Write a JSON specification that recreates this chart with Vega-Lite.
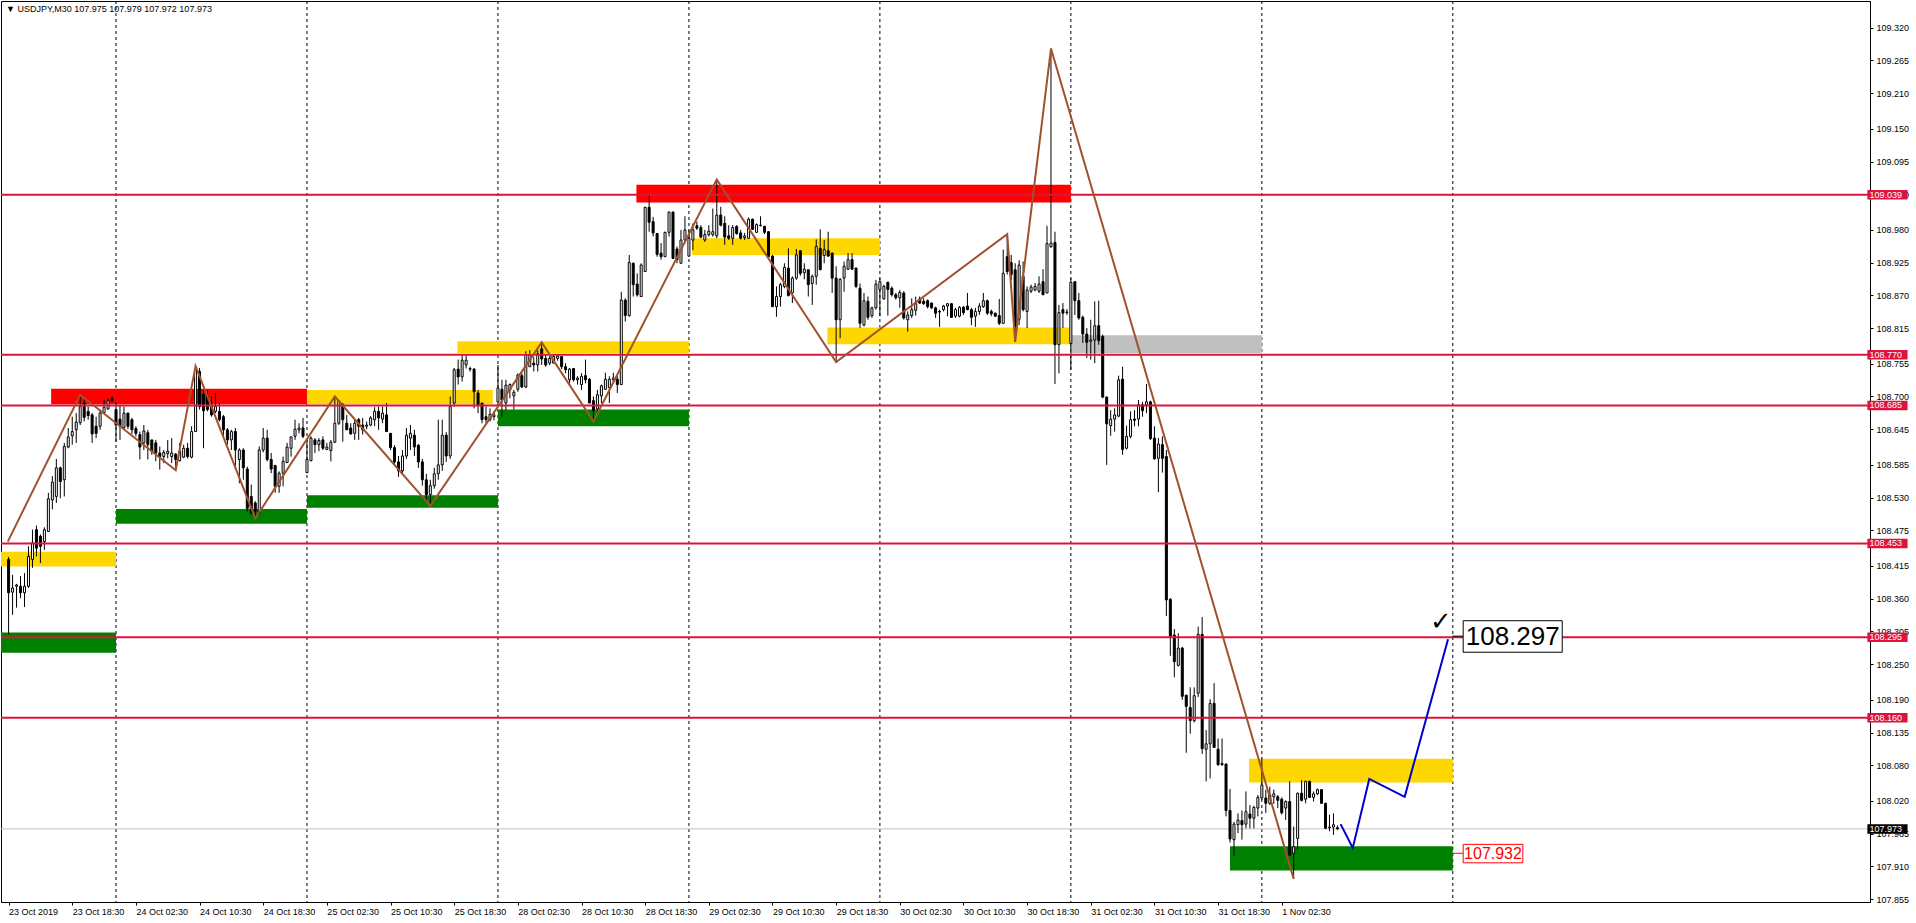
{
 "$schema": "https://vega.github.io/schema/vega-lite/v6.json",
 "width": 1869,
 "height": 901,
 "autosize": {"type": "none"},
 "padding": {"left": 1, "top": 1, "right": 46, "bottom": 21},
 "background": "white",
 "config": {
  "view": {"stroke": "black", "strokeWidth": 1},
  "font": "Liberation Sans",
  "axis": {"labelFont": "Liberation Sans", "labelFontSize": 9, "labelColor": "black", "tickColor": "black", "domainColor": "black", "grid": false, "labelOverlap": false, "labelFlush": false, "labelBound": false}
 },
 "title": {"text": "▼ USDJPY,M30  107.975 107.979 107.972 107.973", "anchor": "start", "frame": "group", "orient": "top", "offset": -13, "dx": 5, "fontSize": 9, "fontWeight": "normal", "font": "Liberation Sans", "color": "black"},
 "datasets": {
  "candles": [
{"i":0,"o":108.426,"h":108.43,"l":108.3,"c":108.37},
{"i":1,"o":108.371,"h":108.4,"l":108.333,"c":108.378},
{"i":2,"o":108.381,"h":108.385,"l":108.345,"c":108.383},
{"i":3,"o":108.381,"h":108.398,"l":108.361,"c":108.37},
{"i":4,"o":108.37,"h":108.403,"l":108.346,"c":108.381},
{"i":5,"o":108.381,"h":108.448,"l":108.378,"c":108.431},
{"i":6,"o":108.426,"h":108.476,"l":108.412,"c":108.454},
{"i":7,"o":108.476,"h":108.483,"l":108.431,"c":108.445},
{"i":8,"o":108.465,"h":108.468,"l":108.42,"c":108.448},
{"i":9,"o":108.456,"h":108.48,"l":108.442,"c":108.476},
{"i":10,"o":108.473,"h":108.538,"l":108.473,"c":108.528},
{"i":11,"o":108.526,"h":108.566,"l":108.51,"c":108.556},
{"i":12,"o":108.532,"h":108.595,"l":108.521,"c":108.58},
{"i":13,"o":108.58,"h":108.582,"l":108.529,"c":108.557},
{"i":14,"o":108.56,"h":108.622,"l":108.532,"c":108.616},
{"i":15,"o":108.615,"h":108.647,"l":108.613,"c":108.632},
{"i":16,"o":108.634,"h":108.666,"l":108.619,"c":108.641},
{"i":17,"o":108.644,"h":108.672,"l":108.622,"c":108.657},
{"i":18,"o":108.656,"h":108.703,"l":108.652,"c":108.683},
{"i":19,"o":108.689,"h":108.694,"l":108.658,"c":108.665},
{"i":20,"o":108.675,"h":108.683,"l":108.661,"c":108.668},
{"i":21,"o":108.669,"h":108.672,"l":108.622,"c":108.637},
{"i":22,"o":108.65,"h":108.666,"l":108.63,"c":108.638},
{"i":23,"o":108.65,"h":108.678,"l":108.644,"c":108.672},
{"i":24,"o":108.673,"h":108.694,"l":108.672,"c":108.682},
{"i":25,"o":108.679,"h":108.697,"l":108.678,"c":108.693},
{"i":26,"o":108.697,"h":108.7,"l":108.69,"c":108.693},
{"i":27,"o":108.678,"h":108.69,"l":108.624,"c":108.652},
{"i":28,"o":108.662,"h":108.686,"l":108.627,"c":108.65},
{"i":29,"o":108.648,"h":108.683,"l":108.644,"c":108.672},
{"i":30,"o":108.672,"h":108.673,"l":108.645,"c":108.65},
{"i":31,"o":108.661,"h":108.664,"l":108.637,"c":108.644},
{"i":32,"o":108.646,"h":108.65,"l":108.633,"c":108.638},
{"i":33,"o":108.636,"h":108.641,"l":108.594,"c":108.615},
{"i":34,"o":108.622,"h":108.652,"l":108.61,"c":108.642},
{"i":35,"o":108.639,"h":108.644,"l":108.594,"c":108.619},
{"i":36,"o":108.627,"h":108.627,"l":108.602,"c":108.608},
{"i":37,"o":108.622,"h":108.627,"l":108.591,"c":108.605},
{"i":38,"o":108.605,"h":108.616,"l":108.577,"c":108.599},
{"i":39,"o":108.599,"h":108.61,"l":108.588,"c":108.606},
{"i":40,"o":108.604,"h":108.627,"l":108.596,"c":108.608},
{"i":41,"o":108.599,"h":108.63,"l":108.588,"c":108.605},
{"i":42,"o":108.603,"h":108.605,"l":108.576,"c":108.594},
{"i":43,"o":108.592,"h":108.622,"l":108.591,"c":108.608},
{"i":44,"o":108.598,"h":108.619,"l":108.596,"c":108.613},
{"i":45,"o":108.613,"h":108.622,"l":108.596,"c":108.599},
{"i":46,"o":108.598,"h":108.65,"l":108.596,"c":108.641},
{"i":47,"o":108.641,"h":108.751,"l":108.641,"c":108.745},
{"i":48,"o":108.742,"h":108.748,"l":108.678,"c":108.683},
{"i":49,"o":108.704,"h":108.711,"l":108.613,"c":108.676},
{"i":50,"o":108.7,"h":108.711,"l":108.675,"c":108.678},
{"i":51,"o":108.686,"h":108.7,"l":108.666,"c":108.669},
{"i":52,"o":108.675,"h":108.706,"l":108.672,"c":108.683},
{"i":53,"o":108.675,"h":108.689,"l":108.658,"c":108.661},
{"i":54,"o":108.666,"h":108.669,"l":108.633,"c":108.644},
{"i":55,"o":108.644,"h":108.647,"l":108.619,"c":108.627},
{"i":56,"o":108.627,"h":108.644,"l":108.61,"c":108.641},
{"i":57,"o":108.641,"h":108.647,"l":108.577,"c":108.61},
{"i":58,"o":108.594,"h":108.613,"l":108.554,"c":108.61},
{"i":59,"o":108.61,"h":108.613,"l":108.56,"c":108.58},
{"i":60,"o":108.578,"h":108.582,"l":108.507,"c":108.512},
{"i":61,"o":108.532,"h":108.552,"l":108.501,"c":108.504},
{"i":62,"o":108.521,"h":108.524,"l":108.495,"c":108.507},
{"i":63,"o":108.504,"h":108.616,"l":108.501,"c":108.61},
{"i":64,"o":108.61,"h":108.647,"l":108.606,"c":108.63},
{"i":65,"o":108.63,"h":108.644,"l":108.591,"c":108.594},
{"i":66,"o":108.594,"h":108.605,"l":108.571,"c":108.578},
{"i":67,"o":108.584,"h":108.585,"l":108.538,"c":108.549},
{"i":68,"o":108.549,"h":108.574,"l":108.538,"c":108.571},
{"i":69,"o":108.571,"h":108.599,"l":108.549,"c":108.591},
{"i":70,"o":108.589,"h":108.622,"l":108.588,"c":108.615},
{"i":71,"o":108.613,"h":108.633,"l":108.599,"c":108.632},
{"i":72,"o":108.633,"h":108.661,"l":108.627,"c":108.645},
{"i":73,"o":108.644,"h":108.655,"l":108.638,"c":108.647},
{"i":74,"o":108.647,"h":108.664,"l":108.63,"c":108.633},
{"i":75,"o":108.572,"h":108.627,"l":108.571,"c":108.594},
{"i":76,"o":108.592,"h":108.633,"l":108.591,"c":108.63},
{"i":77,"o":108.627,"h":108.63,"l":108.605,"c":108.619},
{"i":78,"o":108.619,"h":108.63,"l":108.608,"c":108.626},
{"i":79,"o":108.627,"h":108.633,"l":108.61,"c":108.613},
{"i":80,"o":108.611,"h":108.622,"l":108.61,"c":108.615},
{"i":81,"o":108.609,"h":108.627,"l":108.591,"c":108.623},
{"i":82,"o":108.623,"h":108.7,"l":108.622,"c":108.655},
{"i":83,"o":108.655,"h":108.694,"l":108.652,"c":108.692},
{"i":84,"o":108.686,"h":108.689,"l":108.624,"c":108.661},
{"i":85,"o":108.655,"h":108.669,"l":108.644,"c":108.644},
{"i":86,"o":108.647,"h":108.655,"l":108.636,"c":108.637},
{"i":87,"o":108.638,"h":108.661,"l":108.627,"c":108.655},
{"i":88,"o":108.661,"h":108.664,"l":108.627,"c":108.65},
{"i":89,"o":108.652,"h":108.664,"l":108.636,"c":108.644},
{"i":90,"o":108.65,"h":108.658,"l":108.645,"c":108.652},
{"i":91,"o":108.652,"h":108.667,"l":108.65,"c":108.664},
{"i":92,"o":108.661,"h":108.682,"l":108.65,"c":108.675},
{"i":93,"o":108.675,"h":108.683,"l":108.644,"c":108.664},
{"i":94,"o":108.662,"h":108.683,"l":108.655,"c":108.672},
{"i":95,"o":108.669,"h":108.689,"l":108.641,"c":108.641},
{"i":96,"o":108.638,"h":108.638,"l":108.61,"c":108.614},
{"i":97,"o":108.614,"h":108.618,"l":108.585,"c":108.59},
{"i":98,"o":108.59,"h":108.6,"l":108.565,"c":108.575},
{"i":99,"o":108.575,"h":108.61,"l":108.57,"c":108.6},
{"i":100,"o":108.6,"h":108.647,"l":108.595,"c":108.635},
{"i":101,"o":108.63,"h":108.652,"l":108.61,"c":108.638},
{"i":102,"o":108.635,"h":108.644,"l":108.6,"c":108.615},
{"i":103,"o":108.618,"h":108.62,"l":108.58,"c":108.59},
{"i":104,"o":108.59,"h":108.595,"l":108.55,"c":108.56},
{"i":105,"o":108.56,"h":108.57,"l":108.525,"c":108.535},
{"i":106,"o":108.535,"h":108.56,"l":108.516,"c":108.55},
{"i":107,"o":108.55,"h":108.58,"l":108.545,"c":108.57},
{"i":108,"o":108.57,"h":108.661,"l":108.56,"c":108.585},
{"i":109,"o":108.585,"h":108.661,"l":108.575,"c":108.635},
{"i":110,"o":108.635,"h":108.64,"l":108.59,"c":108.6},
{"i":111,"o":108.6,"h":108.7,"l":108.595,"c":108.683},
{"i":112,"o":108.689,"h":108.748,"l":108.683,"c":108.745},
{"i":113,"o":108.746,"h":108.762,"l":108.72,"c":108.733},
{"i":114,"o":108.733,"h":108.77,"l":108.725,"c":108.761},
{"i":115,"o":108.753,"h":108.77,"l":108.747,"c":108.761},
{"i":116,"o":108.747,"h":108.75,"l":108.742,"c":108.746},
{"i":117,"o":108.746,"h":108.748,"l":108.68,"c":108.708},
{"i":118,"o":108.706,"h":108.711,"l":108.672,"c":108.686},
{"i":119,"o":108.689,"h":108.689,"l":108.655,"c":108.661},
{"i":120,"o":108.666,"h":108.683,"l":108.655,"c":108.661},
{"i":121,"o":108.661,"h":108.68,"l":108.658,"c":108.67},
{"i":122,"o":108.666,"h":108.675,"l":108.66,"c":108.669},
{"i":123,"o":108.691,"h":108.753,"l":108.689,"c":108.714},
{"i":124,"o":108.712,"h":108.728,"l":108.666,"c":108.694},
{"i":125,"o":108.689,"h":108.728,"l":108.677,"c":108.719},
{"i":126,"o":108.711,"h":108.722,"l":108.697,"c":108.72},
{"i":127,"o":108.701,"h":108.711,"l":108.678,"c":108.707},
{"i":128,"o":108.712,"h":108.739,"l":108.708,"c":108.736},
{"i":129,"o":108.735,"h":108.74,"l":108.714,"c":108.716},
{"i":130,"o":108.716,"h":108.776,"l":108.714,"c":108.77},
{"i":131,"o":108.75,"h":108.778,"l":108.75,"c":108.77},
{"i":132,"o":108.756,"h":108.767,"l":108.742,"c":108.753},
{"i":133,"o":108.753,"h":108.778,"l":108.742,"c":108.772},
{"i":134,"o":108.78,"h":108.791,"l":108.753,"c":108.763},
{"i":135,"o":108.764,"h":108.77,"l":108.75,"c":108.753},
{"i":136,"o":108.756,"h":108.768,"l":108.753,"c":108.764},
{"i":137,"o":108.756,"h":108.771,"l":108.756,"c":108.767},
{"i":138,"o":108.764,"h":108.771,"l":108.76,"c":108.768},
{"i":139,"o":108.767,"h":108.768,"l":108.746,"c":108.75},
{"i":140,"o":108.75,"h":108.756,"l":108.739,"c":108.745},
{"i":141,"o":108.728,"h":108.748,"l":108.722,"c":108.746},
{"i":142,"o":108.747,"h":108.748,"l":108.725,"c":108.728},
{"i":143,"o":108.728,"h":108.734,"l":108.72,"c":108.731},
{"i":144,"o":108.72,"h":108.739,"l":108.711,"c":108.734},
{"i":145,"o":108.735,"h":108.762,"l":108.722,"c":108.728},
{"i":146,"o":108.729,"h":108.731,"l":108.689,"c":108.689},
{"i":147,"o":108.693,"h":108.7,"l":108.658,"c":108.676},
{"i":148,"o":108.679,"h":108.711,"l":108.676,"c":108.703},
{"i":149,"o":108.701,"h":108.72,"l":108.689,"c":108.718},
{"i":150,"o":108.712,"h":108.74,"l":108.712,"c":108.729},
{"i":151,"o":108.715,"h":108.734,"l":108.689,"c":108.729},
{"i":152,"o":108.728,"h":108.74,"l":108.722,"c":108.731},
{"i":153,"o":108.729,"h":108.734,"l":108.706,"c":108.72},
{"i":154,"o":108.72,"h":108.876,"l":108.72,"c":108.862},
{"i":155,"o":108.862,"h":108.865,"l":108.826,"c":108.836},
{"i":156,"o":108.836,"h":108.938,"l":108.834,"c":108.925},
{"i":157,"o":108.924,"h":108.925,"l":108.868,"c":108.888},
{"i":158,"o":108.889,"h":108.907,"l":108.868,"c":108.871},
{"i":159,"o":108.868,"h":108.924,"l":108.868,"c":108.921},
{"i":160,"o":108.91,"h":109.019,"l":108.91,"c":109.018},
{"i":161,"o":109.018,"h":109.039,"l":108.977,"c":108.993},
{"i":162,"o":108.994,"h":109.002,"l":108.969,"c":108.975},
{"i":163,"o":108.974,"h":108.974,"l":108.935,"c":108.939},
{"i":164,"o":108.941,"h":108.958,"l":108.93,"c":108.935},
{"i":165,"o":108.935,"h":108.977,"l":108.935,"c":108.976},
{"i":166,"o":108.976,"h":109.011,"l":108.969,"c":109.01},
{"i":167,"o":109.01,"h":109.011,"l":108.931,"c":108.932},
{"i":168,"o":108.948,"h":108.952,"l":108.924,"c":108.93},
{"i":169,"o":108.924,"h":108.98,"l":108.924,"c":108.963},
{"i":170,"o":108.963,"h":109.003,"l":108.96,"c":108.98},
{"i":171,"o":108.936,"h":108.98,"l":108.935,"c":108.966},
{"i":172,"o":108.963,"h":108.991,"l":108.946,"c":108.98},
{"i":173,"o":108.987,"h":108.994,"l":108.98,"c":108.983},
{"i":174,"o":108.984,"h":108.988,"l":108.966,"c":108.968},
{"i":175,"o":108.963,"h":108.98,"l":108.96,"c":108.972},
{"i":176,"o":108.972,"h":108.988,"l":108.969,"c":108.978},
{"i":177,"o":108.972,"h":109.016,"l":108.969,"c":108.977},
{"i":178,"o":108.97,"h":109.065,"l":108.966,"c":109.005},
{"i":179,"o":109.005,"h":109.019,"l":108.986,"c":108.988},
{"i":180,"o":108.991,"h":109.003,"l":108.955,"c":108.968},
{"i":181,"o":108.97,"h":108.988,"l":108.963,"c":108.966},
{"i":182,"o":108.966,"h":108.988,"l":108.955,"c":108.984},
{"i":183,"o":108.986,"h":108.988,"l":108.972,"c":108.974},
{"i":184,"o":108.975,"h":108.98,"l":108.964,"c":108.966},
{"i":185,"o":108.967,"h":108.975,"l":108.963,"c":108.97},
{"i":186,"o":108.966,"h":109.001,"l":108.965,"c":108.998},
{"i":187,"o":108.998,"h":108.999,"l":108.98,"c":108.981},
{"i":188,"o":108.976,"h":108.991,"l":108.975,"c":108.989},
{"i":189,"o":108.987,"h":109.003,"l":108.986,"c":108.988},
{"i":190,"o":108.986,"h":108.987,"l":108.973,"c":108.976},
{"i":191,"o":108.977,"h":108.978,"l":108.935,"c":108.935},
{"i":192,"o":108.936,"h":108.938,"l":108.851,"c":108.851},
{"i":193,"o":108.851,"h":108.885,"l":108.834,"c":108.868},
{"i":194,"o":108.868,"h":108.891,"l":108.851,"c":108.888},
{"i":195,"o":108.885,"h":108.924,"l":108.882,"c":108.917},
{"i":196,"o":108.916,"h":108.949,"l":108.868,"c":108.87},
{"i":197,"o":108.874,"h":108.902,"l":108.857,"c":108.899},
{"i":198,"o":108.899,"h":108.948,"l":108.896,"c":108.938},
{"i":199,"o":108.945,"h":108.946,"l":108.903,"c":108.907},
{"i":200,"o":108.908,"h":108.924,"l":108.897,"c":108.914},
{"i":201,"o":108.913,"h":108.913,"l":108.868,"c":108.888},
{"i":202,"o":108.89,"h":108.905,"l":108.854,"c":108.902},
{"i":203,"o":108.902,"h":108.964,"l":108.888,"c":108.952},
{"i":204,"o":108.949,"h":108.981,"l":108.913,"c":108.913},
{"i":205,"o":108.937,"h":108.963,"l":108.924,"c":108.947},
{"i":206,"o":108.945,"h":108.977,"l":108.935,"c":108.936},
{"i":207,"o":108.941,"h":108.942,"l":108.874,"c":108.899},
{"i":208,"o":108.899,"h":108.919,"l":108.758,"c":108.829},
{"i":209,"o":108.829,"h":108.899,"l":108.798,"c":108.897},
{"i":210,"o":108.899,"h":108.927,"l":108.876,"c":108.919},
{"i":211,"o":108.914,"h":108.941,"l":108.913,"c":108.93},
{"i":212,"o":108.93,"h":108.941,"l":108.913,"c":108.914},
{"i":213,"o":108.916,"h":108.916,"l":108.882,"c":108.885},
{"i":214,"o":108.882,"h":108.89,"l":108.815,"c":108.823},
{"i":215,"o":108.82,"h":108.874,"l":108.818,"c":108.861},
{"i":216,"o":108.86,"h":108.868,"l":108.829,"c":108.833},
{"i":217,"o":108.836,"h":108.851,"l":108.832,"c":108.849},
{"i":218,"o":108.849,"h":108.896,"l":108.846,"c":108.889},
{"i":219,"o":108.88,"h":108.899,"l":108.835,"c":108.893},
{"i":220,"o":108.864,"h":108.888,"l":108.863,"c":108.885},
{"i":221,"o":108.892,"h":108.893,"l":108.836,"c":108.88},
{"i":222,"o":108.882,"h":108.885,"l":108.868,"c":108.871},
{"i":223,"o":108.871,"h":108.874,"l":108.863,"c":108.866},
{"i":224,"o":108.866,"h":108.879,"l":108.849,"c":108.875},
{"i":225,"o":108.874,"h":108.877,"l":108.829,"c":108.832},
{"i":226,"o":108.829,"h":108.843,"l":108.809,"c":108.837},
{"i":227,"o":108.836,"h":108.865,"l":108.832,"c":108.846},
{"i":228,"o":108.845,"h":108.868,"l":108.836,"c":108.856},
{"i":229,"o":108.864,"h":108.868,"l":108.856,"c":108.857},
{"i":230,"o":108.86,"h":108.865,"l":108.854,"c":108.856},
{"i":231,"o":108.861,"h":108.863,"l":108.848,"c":108.851},
{"i":232,"o":108.857,"h":108.858,"l":108.847,"c":108.849},
{"i":233,"o":108.849,"h":108.851,"l":108.832,"c":108.84},
{"i":234,"o":108.843,"h":108.846,"l":108.817,"c":108.842},
{"i":235,"o":108.846,"h":108.854,"l":108.843,"c":108.852},
{"i":236,"o":108.852,"h":108.857,"l":108.835,"c":108.856},
{"i":237,"o":108.856,"h":108.857,"l":108.832,"c":108.833},
{"i":238,"o":108.835,"h":108.849,"l":108.832,"c":108.846},
{"i":239,"o":108.835,"h":108.852,"l":108.833,"c":108.85},
{"i":240,"o":108.85,"h":108.852,"l":108.837,"c":108.841},
{"i":241,"o":108.852,"h":108.874,"l":108.845,"c":108.846},
{"i":242,"o":108.846,"h":108.849,"l":108.82,"c":108.833},
{"i":243,"o":108.835,"h":108.849,"l":108.817,"c":108.843},
{"i":244,"o":108.843,"h":108.857,"l":108.837,"c":108.852},
{"i":245,"o":108.851,"h":108.874,"l":108.849,"c":108.861},
{"i":246,"o":108.861,"h":108.863,"l":108.837,"c":108.84},
{"i":247,"o":108.843,"h":108.846,"l":108.835,"c":108.839},
{"i":248,"o":108.84,"h":108.841,"l":108.834,"c":108.835},
{"i":249,"o":108.836,"h":108.864,"l":108.82,"c":108.823},
{"i":250,"o":108.823,"h":108.947,"l":108.823,"c":108.907},
{"i":251,"o":108.935,"h":108.973,"l":108.905,"c":108.91},
{"i":252,"o":108.925,"h":108.938,"l":108.895,"c":108.905},
{"i":253,"o":108.913,"h":108.924,"l":108.792,"c":108.818},
{"i":254,"o":108.83,"h":108.929,"l":108.82,"c":108.921},
{"i":255,"o":108.902,"h":108.927,"l":108.843,"c":108.846},
{"i":256,"o":108.843,"h":108.885,"l":108.815,"c":108.879},
{"i":257,"o":108.877,"h":108.888,"l":108.874,"c":108.884},
{"i":258,"o":108.879,"h":108.891,"l":108.877,"c":108.885},
{"i":259,"o":108.877,"h":108.902,"l":108.874,"c":108.889},
{"i":260,"o":108.893,"h":108.914,"l":108.871,"c":108.871},
{"i":261,"o":108.874,"h":108.987,"l":108.874,"c":108.957},
{"i":262,"o":108.952,"h":109.285,"l":108.95,"c":108.958},
{"i":263,"o":108.959,"h":108.977,"l":108.721,"c":108.787},
{"i":264,"o":108.787,"h":108.854,"l":108.739,"c":108.841},
{"i":265,"o":108.846,"h":108.857,"l":108.815,"c":108.84},
{"i":266,"o":108.842,"h":108.847,"l":108.837,"c":108.841},
{"i":267,"o":108.789,"h":108.899,"l":108.745,"c":108.892},
{"i":268,"o":108.893,"h":108.893,"l":108.837,"c":108.861},
{"i":269,"o":108.861,"h":108.874,"l":108.829,"c":108.832},
{"i":270,"o":108.833,"h":108.836,"l":108.79,"c":108.805},
{"i":271,"o":108.805,"h":108.815,"l":108.765,"c":108.791},
{"i":272,"o":108.793,"h":108.829,"l":108.762,"c":108.795},
{"i":273,"o":108.795,"h":108.86,"l":108.756,"c":108.819},
{"i":274,"o":108.819,"h":108.861,"l":108.787,"c":108.794},
{"i":275,"o":108.801,"h":108.804,"l":108.697,"c":108.699},
{"i":276,"o":108.699,"h":108.7,"l":108.585,"c":108.654},
{"i":277,"o":108.651,"h":108.677,"l":108.634,"c":108.662},
{"i":278,"o":108.662,"h":108.68,"l":108.641,"c":108.669},
{"i":279,"o":108.667,"h":108.735,"l":108.665,"c":108.728},
{"i":280,"o":108.729,"h":108.75,"l":108.602,"c":108.611},
{"i":281,"o":108.613,"h":108.651,"l":108.611,"c":108.633},
{"i":282,"o":108.633,"h":108.675,"l":108.63,"c":108.661},
{"i":283,"o":108.662,"h":108.677,"l":108.65,"c":108.66},
{"i":284,"o":108.662,"h":108.694,"l":108.65,"c":108.686},
{"i":285,"o":108.686,"h":108.691,"l":108.666,"c":108.676},
{"i":286,"o":108.686,"h":108.721,"l":108.672,"c":108.691},
{"i":287,"o":108.691,"h":108.693,"l":108.627,"c":108.629},
{"i":288,"o":108.63,"h":108.65,"l":108.594,"c":108.595},
{"i":289,"o":108.596,"h":108.63,"l":108.539,"c":108.62},
{"i":290,"o":108.619,"h":108.633,"l":108.572,"c":108.596},
{"i":291,"o":108.599,"h":108.61,"l":108.331,"c":108.358},
{"i":292,"o":108.359,"h":108.361,"l":108.264,"c":108.297},
{"i":293,"o":108.299,"h":108.309,"l":108.228,"c":108.254},
{"i":294,"o":108.248,"h":108.302,"l":108.246,"c":108.277},
{"i":295,"o":108.277,"h":108.279,"l":108.19,"c":108.196},
{"i":296,"o":108.198,"h":108.198,"l":108.101,"c":108.179},
{"i":297,"o":108.177,"h":108.211,"l":108.133,"c":108.155},
{"i":298,"o":108.155,"h":108.211,"l":108.152,"c":108.197},
{"i":299,"o":108.201,"h":108.313,"l":108.195,"c":108.3},
{"i":300,"o":108.3,"h":108.329,"l":108.099,"c":108.108},
{"i":301,"o":108.107,"h":108.139,"l":108.053,"c":108.116},
{"i":302,"o":108.116,"h":108.191,"l":108.058,"c":108.184},
{"i":303,"o":108.184,"h":108.218,"l":108.11,"c":108.11},
{"i":304,"o":108.107,"h":108.125,"l":108.079,"c":108.081},
{"i":305,"o":108.083,"h":108.125,"l":108.079,"c":108.081},
{"i":306,"o":108.082,"h":108.083,"l":107.994,"c":108.004},
{"i":307,"o":108.004,"h":108.04,"l":107.95,"c":107.956},
{"i":308,"o":107.955,"h":107.985,"l":107.928,"c":107.981},
{"i":309,"o":107.98,"h":107.999,"l":107.966,"c":107.988},
{"i":310,"o":107.987,"h":108.004,"l":107.955,"c":107.98},
{"i":311,"o":107.981,"h":108.036,"l":107.974,"c":108.002},
{"i":312,"o":107.998,"h":108.013,"l":107.974,"c":107.991},
{"i":313,"o":107.991,"h":108.012,"l":107.974,"c":108.009},
{"i":314,"o":108.008,"h":108.03,"l":107.994,"c":108.026},
{"i":315,"o":108.025,"h":108.092,"l":108.022,"c":108.047},
{"i":316,"o":108.025,"h":108.039,"l":108.0,"c":108.016},
{"i":317,"o":108.016,"h":108.044,"l":108.013,"c":108.03},
{"i":318,"o":108.027,"h":108.039,"l":108.015,"c":108.032},
{"i":319,"o":108.027,"h":108.03,"l":108.008,"c":108.021},
{"i":320,"o":108.023,"h":108.026,"l":107.997,"c":108.0},
{"i":321,"o":108.008,"h":108.021,"l":107.988,"c":108.019},
{"i":322,"o":108.019,"h":108.053,"l":107.927,"c":107.929},
{"i":323,"o":107.932,"h":107.977,"l":107.889,"c":107.943},
{"i":324,"o":107.957,"h":108.034,"l":107.938,"c":108.033},
{"i":325,"o":108.033,"h":108.055,"l":108.019,"c":108.021},
{"i":326,"o":108.023,"h":108.054,"l":108.016,"c":108.053},
{"i":327,"o":108.053,"h":108.054,"l":108.025,"c":108.026},
{"i":328,"o":108.026,"h":108.036,"l":108.019,"c":108.032},
{"i":329,"o":108.032,"h":108.041,"l":108.03,"c":108.039},
{"i":330,"o":108.039,"h":108.04,"l":108.015,"c":108.016},
{"i":331,"o":108.016,"h":108.017,"l":107.973,"c":107.974},
{"i":332,"o":107.975,"h":107.997,"l":107.969,"c":107.976},
{"i":333,"o":107.976,"h":107.999,"l":107.963,"c":107.98},
{"i":334,"o":107.975,"h":107.979,"l":107.972,"c":107.973}
  ],
  "zones": [
{"t0":-2,"t1":27,"top":108.439,"bottom":108.414,"kind":"watch"},
{"t0":-2,"t1":27,"top":108.303,"bottom":108.269,"kind":"buy"},
{"t0":10.7,"t1":75,"top":108.713,"bottom":108.687,"kind":"sell"},
{"t0":27,"t1":75,"top":108.511,"bottom":108.486,"kind":"buy"},
{"t0":75,"t1":121.7,"top":108.711,"bottom":108.687,"kind":"watch"},
{"t0":75,"t1":123,"top":108.534,"bottom":108.513,"kind":"buy"},
{"t0":112.8,"t1":171,"top":108.793,"bottom":108.773,"kind":"watch"},
{"t0":123,"t1":171,"top":108.678,"bottom":108.65,"kind":"buy"},
{"t0":157.8,"t1":267,"top":109.056,"bottom":109.026,"kind":"sell"},
{"t0":171.8,"t1":219,"top":108.966,"bottom":108.938,"kind":"watch"},
{"t0":205.8,"t1":267,"top":108.816,"bottom":108.788,"kind":"watch"},
{"t0":267,"t1":315,"top":108.803,"bottom":108.773,"kind":"neutral"},
{"t0":311.8,"t1":363,"top":108.091,"bottom":108.051,"kind":"watch"},
{"t0":307,"t1":363,"top":107.944,"bottom":107.903,"kind":"buy"}
  ],
  "levels": [{"level":109.039},{"level":108.77},{"level":108.685},{"level":108.453},{"level":108.295},{"level":108.16}],
  "bid": [{"level":107.973}],
  "days": [{"i":27},{"i":75},{"i":123},{"i":171},{"i":219},{"i":267},{"i":315},{"i":363}],
  "zigzag": [
{"i":-0.2,"p":108.456},{"i":18,"p":108.703},{"i":42,"p":108.576},{"i":47,"p":108.751},{"i":62,"p":108.495},{"i":82,"p":108.7},{"i":106,"p":108.516},{"i":134,"p":108.791},{"i":147,"p":108.658},{"i":178,"p":109.065},{"i":208,"p":108.758},{"i":251,"p":108.973},{"i":253,"p":108.792},{"i":262,"p":109.285},{"i":323,"p":107.889}
  ],
  "forecast": [
{"i":334.8,"p":107.981},{"i":337.85,"p":107.941},{"i":342,"p":108.057},{"i":350.9,"p":108.027},{"i":361.8,"p":108.292}
  ],
  "tags": [
{"kind":"target","anchor":362.85,"t0":365.6,"t1":390.5,"mid":378.05,"top":108.323,"bottom":108.27,"level":108.297,"text":"108.297"},
{"kind":"stop","anchor":362.85,"t0":365.6,"t1":380.6,"mid":373.1,"top":107.947,"bottom":107.916,"level":107.932,"text":"107.932"}
  ],
  "check": [{"i":360,"p":108.321,"mark":"✓"}]
 },
 "layer": [
  {
   "data": {"name": "days"},
   "mark": {"type": "rule", "color": "black", "strokeWidth": 1, "strokeDash": [3, 3]},
   "encoding": {
    "x": {"field": "i", "type": "quantitative", "title": null,
     "scale": {"domain": [-0.65, 466.6], "nice": false, "zero": false},
     "axis": {"orient": "bottom", "values": [0,16,32,48,64,80,96,112,128,144,160,176,192,208,224,240,256,272,288,304,320], "tickCount": 100,
      "labelExpr": "['23 Oct 2019','23 Oct 18:30','24 Oct 02:30','24 Oct 10:30','24 Oct 18:30','25 Oct 02:30','25 Oct 10:30','25 Oct 18:30','28 Oct 02:30','28 Oct 10:30','28 Oct 18:30','29 Oct 02:30','29 Oct 10:30','29 Oct 18:30','30 Oct 02:30','30 Oct 10:30','30 Oct 18:30','31 Oct 02:30','31 Oct 10:30','31 Oct 18:30','1 Nov 02:30'][round(datum.value/16)]",
      "labelAlign": "left", "labelPadding": 2, "tickSize": 3, "labelAngle": 0, "labelOverlap": false, "labelFlush": false, "labelBound": false}}
   }
  },
  {
   "data": {"name": "zones"},
   "mark": {"type": "rect", "clip": true},
   "encoding": {
    "x": {"field": "t0", "type": "quantitative", "title": null},
    "x2": {"field": "t1"},
    "y": {"field": "top", "type": "quantitative", "title": null,
     "scale": {"domain": [107.8501, 109.3649], "nice": false, "zero": false},
     "axis": {"orient": "right", "values": [109.32,109.265,109.21,109.15,109.095,109.04,108.98,108.925,108.87,108.815,108.755,108.7,108.645,108.585,108.53,108.475,108.415,108.36,108.305,108.25,108.19,108.135,108.08,108.02,107.965,107.91,107.855], "tickCount": 100,
      "format": ".3f", "tickSize": 3, "labelPadding": 3, "labelBaseline": "middle", "labelOverlap": false, "labelFlush": false, "labelBound": false}},
    "y2": {"field": "bottom"},
    "fill": {"field": "kind", "type": "nominal", "legend": null,
     "scale": {"domain": ["sell", "watch", "buy", "neutral"], "range": ["#FF0000", "#FFD700", "#008000", "#C0C0C0"]}}
   }
  },
  {
   "data": {"name": "bid"},
   "mark": {"type": "rule", "color": "#C0C0C0", "strokeWidth": 1},
   "encoding": {"y": {"field": "level", "type": "quantitative", "title": null}}
  },
  {
   "data": {"name": "candles"},
   "mark": {"type": "rule", "color": "black", "strokeWidth": 1},
   "encoding": {
    "x": {"field": "i", "type": "quantitative", "title": null},
    "y": {"field": "l", "type": "quantitative", "title": null},
    "y2": {"field": "h"}
   }
  },
  {
   "data": {"name": "candles"},
   "mark": {"type": "bar", "size": 2, "stroke": "black", "strokeWidth": 1},
   "encoding": {
    "x": {"field": "i", "type": "quantitative", "title": null},
    "y": {"field": "o", "type": "quantitative", "title": null},
    "y2": {"field": "c"},
    "fill": {"condition": {"test": "datum.c >= datum.o", "value": "white"}, "value": "black"}
   }
  },
  {
   "data": {"name": "levels"},
   "mark": {"type": "rule", "color": "#DC143C", "strokeWidth": 2},
   "encoding": {"y": {"field": "level", "type": "quantitative", "title": null}}
  },
  {
   "data": {"name": "zigzag"},
   "mark": {"type": "line", "color": "#A0522D", "strokeWidth": 2},
   "encoding": {
    "x": {"field": "i", "type": "quantitative", "title": null},
    "y": {"field": "p", "type": "quantitative", "title": null}
   }
  },
  {
   "data": {"name": "forecast"},
   "mark": {"type": "line", "color": "#0000CD", "strokeWidth": 2},
   "encoding": {
    "x": {"field": "i", "type": "quantitative", "title": null},
    "y": {"field": "p", "type": "quantitative", "title": null}
   }
  },
  {
   "data": {"name": "tags"},
   "transform": [{"filter": "datum.kind == 'target'"}],
   "layer": [
    {"mark": {"type": "rule", "color": "black", "strokeWidth": 1},
     "encoding": {"x": {"field": "anchor", "type": "quantitative", "title": null}, "x2": {"field": "t0"}, "y": {"field": "level", "type": "quantitative", "title": null}}},
    {"mark": {"type": "rect", "fill": "white", "stroke": "black", "strokeWidth": 1},
     "encoding": {"x": {"field": "t0", "type": "quantitative", "title": null}, "x2": {"field": "t1"}, "y": {"field": "top", "type": "quantitative", "title": null}, "y2": {"field": "bottom"}}},
    {"mark": {"type": "text", "fontSize": 26, "font": "Liberation Sans", "color": "black", "align": "center", "baseline": "middle", "dy": 1},
     "encoding": {"x": {"field": "mid", "type": "quantitative", "title": null}, "y": {"field": "level", "type": "quantitative", "title": null}, "text": {"field": "text"}}}
   ]
  },
  {
   "data": {"name": "tags"},
   "transform": [{"filter": "datum.kind == 'stop'"}],
   "layer": [
    {"mark": {"type": "rule", "color": "#FF0000", "strokeWidth": 1},
     "encoding": {"x": {"field": "anchor", "type": "quantitative", "title": null}, "x2": {"field": "t0"}, "y": {"field": "level", "type": "quantitative", "title": null}}},
    {"mark": {"type": "rect", "fill": "white", "stroke": "#FF0000", "strokeWidth": 1},
     "encoding": {"x": {"field": "t0", "type": "quantitative", "title": null}, "x2": {"field": "t1"}, "y": {"field": "top", "type": "quantitative", "title": null}, "y2": {"field": "bottom"}}},
    {"mark": {"type": "text", "fontSize": 16, "font": "Liberation Sans", "color": "#FF0000", "align": "center", "baseline": "middle", "dy": 1},
     "encoding": {"x": {"field": "mid", "type": "quantitative", "title": null}, "y": {"field": "level", "type": "quantitative", "title": null}, "text": {"field": "text"}}}
   ]
  },
  {
   "data": {"name": "check"},
   "mark": {"type": "text", "fontSize": 26, "font": "DejaVu Sans", "color": "black", "align": "center", "baseline": "middle"},
   "encoding": {"x": {"field": "i", "type": "quantitative", "title": null}, "y": {"field": "p", "type": "quantitative", "title": null}, "text": {"field": "mark"}}
  },
  {
   "data": {"name": "levels"},
   "layer": [
    {"mark": {"type": "rule", "color": "#DC143C", "strokeWidth": 9.5, "strokeCap": "butt"},
     "encoding": {"x": {"datum": 467.2}, "x2": {"datum": 477.3}, "y": {"field": "level", "type": "quantitative", "title": null}}},
    {"mark": {"type": "text", "fontSize": 9, "font": "Liberation Sans", "color": "white", "align": "left", "baseline": "middle"},
     "encoding": {"x": {"datum": 467.7}, "y": {"field": "level", "type": "quantitative", "title": null}, "text": {"field": "level", "type": "quantitative", "format": ".3f"}}}
   ]
  },
  {
   "data": {"name": "bid"},
   "layer": [
    {"mark": {"type": "rule", "color": "black", "strokeWidth": 9.5, "strokeCap": "butt"},
     "encoding": {"x": {"datum": 467.2}, "x2": {"datum": 477.3}, "y": {"field": "level", "type": "quantitative", "title": null}}},
    {"mark": {"type": "text", "fontSize": 9, "font": "Liberation Sans", "color": "white", "align": "left", "baseline": "middle"},
     "encoding": {"x": {"datum": 467.7}, "y": {"field": "level", "type": "quantitative", "title": null}, "text": {"field": "level", "type": "quantitative", "format": ".3f"}}}
   ]
  }
 ]
}
